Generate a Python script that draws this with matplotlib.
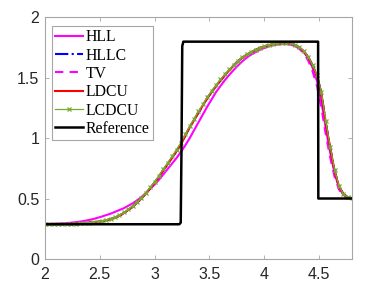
import matplotlib
matplotlib.use("Agg")
import matplotlib.pyplot as plt
import numpy as np

# grid of x positions
x = [2.00, 2.04, 2.08, 2.12, 2.16, 2.20, 2.24, 2.28, 2.32, 2.36,
     2.40, 2.44, 2.48, 2.52, 2.56, 2.60, 2.64, 2.68, 2.72, 2.76,
     2.80, 2.84, 2.88, 2.92, 2.96, 3.00, 3.04, 3.08, 3.12, 3.16,
     3.20, 3.24, 3.28, 3.32, 3.36, 3.40, 3.44, 3.48, 3.52, 3.56,
     3.60, 3.64, 3.68, 3.72, 3.76, 3.80, 3.84, 3.88, 3.92, 3.96,
     4.00, 4.04, 4.08, 4.12, 4.16, 4.20, 4.24, 4.28, 4.32, 4.36,
     4.40, 4.44, 4.48, 4.52, 4.56, 4.60, 4.64, 4.68, 4.72, 4.76, 4.80]

hll = [0.290, 0.291, 0.292, 0.293, 0.295, 0.297, 0.300, 0.304, 0.309, 0.315,
       0.322, 0.330, 0.340, 0.351, 0.363, 0.375, 0.390, 0.405, 0.420, 0.440,
       0.460, 0.485, 0.512, 0.545, 0.580, 0.615, 0.655, 0.700, 0.745, 0.790,
       0.835, 0.885, 0.940, 1.000, 1.065, 1.130, 1.195, 1.260, 1.320, 1.380,
       1.430, 1.478, 1.522, 1.562, 1.600, 1.635, 1.665, 1.690, 1.710, 1.730,
       1.745, 1.757, 1.767, 1.773, 1.777, 1.777, 1.772, 1.760, 1.740, 1.710,
       1.660, 1.580, 1.470, 1.300, 1.080, 0.880, 0.710, 0.590, 0.530, 0.508, 0.501]

hllc = [0.288, 0.288, 0.288, 0.289, 0.289, 0.290, 0.291, 0.293, 0.295, 0.297,
        0.300, 0.303, 0.307, 0.312, 0.320, 0.330, 0.342, 0.358, 0.380, 0.405,
        0.432, 0.465, 0.500, 0.540, 0.585, 0.630, 0.680, 0.735, 0.785, 0.838,
        0.892, 0.950, 1.020, 1.090, 1.150, 1.210, 1.270, 1.330, 1.380, 1.430,
        1.475, 1.520, 1.560, 1.600, 1.635, 1.665, 1.690, 1.710, 1.728, 1.745,
        1.758, 1.768, 1.776, 1.781, 1.785, 1.786, 1.782, 1.770, 1.748, 1.716,
        1.670, 1.600, 1.515, 1.370, 1.125, 0.920, 0.730, 0.600, 0.538, 0.510, 0.502]

tv = [0.288, 0.288, 0.288, 0.289, 0.289, 0.290, 0.291, 0.293, 0.295, 0.297,
      0.300, 0.303, 0.307, 0.312, 0.320, 0.330, 0.342, 0.358, 0.380, 0.405,
      0.432, 0.465, 0.500, 0.540, 0.585, 0.630, 0.680, 0.735, 0.785, 0.838,
      0.892, 0.950, 1.020, 1.090, 1.150, 1.210, 1.270, 1.330, 1.380, 1.430,
      1.475, 1.520, 1.560, 1.600, 1.635, 1.665, 1.690, 1.710, 1.728, 1.745,
      1.758, 1.768, 1.776, 1.781, 1.785, 1.786, 1.780, 1.765, 1.738, 1.700,
      1.640, 1.550, 1.430, 1.250, 1.030, 0.840, 0.680, 0.575, 0.525, 0.506, 0.501]

ldcu = [0.288, 0.288, 0.288, 0.289, 0.289, 0.290, 0.291, 0.293, 0.295, 0.297,
        0.300, 0.303, 0.307, 0.312, 0.320, 0.330, 0.342, 0.358, 0.380, 0.405,
        0.432, 0.465, 0.500, 0.540, 0.585, 0.630, 0.680, 0.735, 0.785, 0.838,
        0.892, 0.950, 1.020, 1.090, 1.150, 1.210, 1.270, 1.330, 1.380, 1.430,
        1.475, 1.520, 1.560, 1.600, 1.635, 1.665, 1.690, 1.710, 1.728, 1.745,
        1.758, 1.768, 1.776, 1.781, 1.785, 1.786, 1.782, 1.770, 1.748, 1.716,
        1.670, 1.600, 1.515, 1.370, 1.125, 0.920, 0.730, 0.600, 0.538, 0.510, 0.502]

lcdcu = [0.288, 0.288, 0.288, 0.289, 0.289, 0.290, 0.291, 0.293, 0.295, 0.298,
         0.301, 0.305, 0.309, 0.315, 0.323, 0.334, 0.347, 0.364, 0.386, 0.412,
         0.440, 0.473, 0.508, 0.548, 0.593, 0.640, 0.690, 0.745, 0.797, 0.850,
         0.905, 0.962, 1.030, 1.098, 1.160, 1.220, 1.280, 1.338, 1.390, 1.440,
         1.485, 1.528, 1.568, 1.606, 1.640, 1.668, 1.693, 1.713, 1.731, 1.747,
         1.760, 1.770, 1.778, 1.783, 1.787, 1.788, 1.784, 1.772, 1.750, 1.718,
         1.672, 1.603, 1.520, 1.380, 1.140, 0.930, 0.738, 0.605, 0.540, 0.511, 0.502]

ref_x = [2.00, 3.225, 3.238, 3.245, 3.252, 3.262, 4.490, 4.492, 4.80]
ref_y = [0.287, 0.287, 0.300, 0.900, 1.760, 1.797, 1.797, 0.500, 0.500]

labels = ["HLL", "HLLC", "TV", "LDCU", "LCDCU", "Reference"]
xticks = [2, 2.5, 3, 3.5, 4, 4.5]
yticks = [0, 0.5, 1, 1.5, 2]

fig = plt.figure(figsize=(3.77, 2.90), dpi=100)
ax = fig.add_axes([0.119, 0.107, 0.815, 0.834])

lw = 1.5
ax.plot(x, hll, color="#FF00FF", lw=lw, label=labels[0])
ax.plot(x, hllc, color="#0000FF", lw=lw, ls="-.", label=labels[1])
ax.plot(x, tv, color="#FF00FF", lw=lw, ls=(0, (4, 3)), label=labels[2])
ax.plot(x, ldcu, color="#FF0000", lw=lw, label=labels[3])
ax.plot(x, lcdcu, color="#77AC30", lw=0.9, marker="x", ms=3.2, mew=0.9, label=labels[4])
ax.plot(ref_x, ref_y, color="black", lw=1.8, label=labels[5])

ax.set_xlim(2, 4.8)
ax.set_ylim(0, 2)
ax.set_xticks(xticks)
ax.set_xticklabels([f"{t:g}" for t in xticks])
ax.set_yticks(yticks)
ax.set_yticklabels([f"{t:g}" for t in yticks])

for s in ax.spines.values():
    s.set_color("#A6A6A6")
    s.set_linewidth(0.8)
ax.tick_params(direction="in", length=3, width=0.6, color="#A6A6A6",
               labelcolor="#262626", labelsize=11.5, top=True, right=True,
               labeltop=False, labelright=False)
ax.tick_params(axis="x", pad=6)
ax.tick_params(axis="y", pad=4)
for lab in ax.get_xticklabels() + ax.get_yticklabels():
    lab.set_fontfamily("Liberation Sans")

leg = ax.legend(loc="upper left", bbox_to_anchor=(0.023, 0.963),
                prop={"family": "Liberation Serif", "size": 11.3},
                handlelength=1.8, handletextpad=0.15, borderpad=0.2,
                labelspacing=0.15, borderaxespad=0.0, fancybox=False,
                framealpha=1.0, edgecolor="#A6A6A6", numpoints=1)
leg.get_frame().set_linewidth(0.8)

fig.savefig("out.png", dpi=100)
